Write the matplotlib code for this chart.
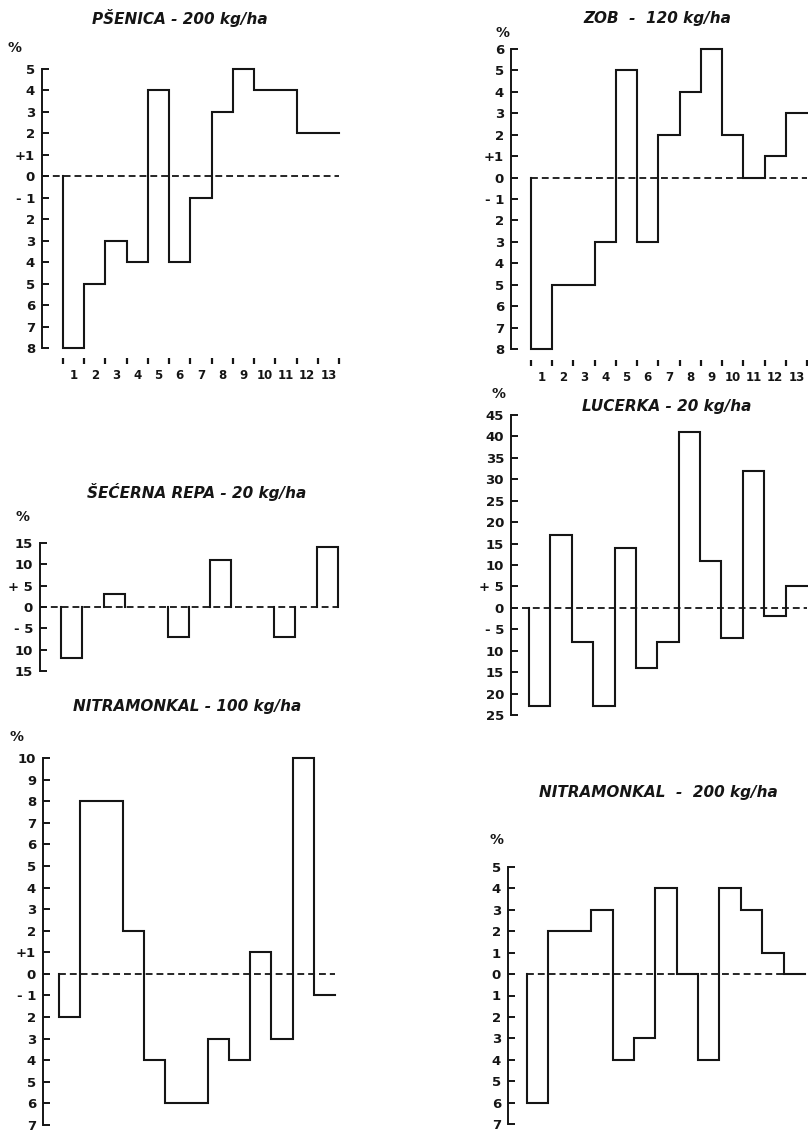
import numpy as np
import matplotlib
matplotlib.use('Agg')
import matplotlib.pyplot as plt

plt.rcParams['font.family'] = ['DejaVu Sans']

# data (percent change per interval 1..13)
psenica = [-8, -5, -3, -4, 4, -4, -1, 3, 5, 4, 4, 2, 2]
zob = [-8, -5, -5, -3, 5, -3, 2, 4, 6, 2, 0, 1, 3]
secerna = [-12, 0, 3, 0, 0, -7, 0, 11, 0, 0, -7, 0, 14]
lucerka = [-23, 17, -8, -23, 14, -14, -8, 41, 11, -7, 32, -2, 5]
nitro100 = [-2, 8, 8, 2, -4, -6, -6, -3, -4, 1, -3, 10, -1]
nitro200 = [-6, 2, 2, 3, -4, -3, 4, 0, -4, 4, 3, 1, 0]

x_labels = [str(i) for i in range(1, 14)]

# y tick values and their hand-written labels
psenica_ticks = list(range(5, -9, -1))
psenica_tl = ['5', '4', '3', '2', '+1', '0', '- 1', '2', '3', '4', '5', '6', '7', '8']
zob_ticks = list(range(6, -9, -1))
zob_tl = ['6', '5', '4', '3', '2', '+1', '0', '- 1', '2', '3', '4', '5', '6', '7', '8']
secerna_ticks = list(range(15, -16, -5))
secerna_tl = ['15', '10', '+ 5', '0', '- 5', '10', '15']
lucerka_ticks = list(range(45, -26, -5))
lucerka_tl = ['45', '40', '35', '30', '25', '20', '15', '10', '+ 5', '0', '- 5',
              '10', '15', '20', '25']
nitro100_ticks = list(range(10, -8, -1))
nitro100_tl = ['10', '9', '8', '7', '6', '5', '4', '3', '2', '+1', '0', '- 1',
               '2', '3', '4', '5', '6', '7']
nitro200_ticks = list(range(5, -8, -1))
nitro200_tl = ['5', '4', '3', '2', '1', '0', '1', '2', '3', '4', '5', '6', '7']

W, H = 808, 1131
INK = '#151515'
fig = plt.figure(figsize=(W / 100, H / 100), dpi=100)
fig.patch.set_facecolor('white')


def make_axes(spine_x, start_x, end_x, top_px, bot_px, ticks, labels):
    unit = (end_x - start_x) / 13
    x0 = -(start_x - spine_x) / unit
    ax = fig.add_axes([spine_x / W, 1 - bot_px / H, (end_x - spine_x) / W,
                       (bot_px - top_px) / H])
    ax.set_xlim(x0, 13)
    ax.set_ylim(ticks[-1], ticks[0])
    ax.patch.set_alpha(0)
    for s in ['top', 'right', 'bottom']:
        ax.spines[s].set_visible(False)
    ax.spines['left'].set_linewidth(1.4)
    ax.spines['left'].set_color(INK)
    ax.set_yticks(ticks)
    ax.set_yticklabels(labels)
    ax.tick_params(axis='y', direction='in', length=5, width=1.4, pad=5,
                   labelsize=9.5, colors=INK)
    for t in ax.get_yticklabels():
        t.set_fontweight('bold')
    ax.set_xticks([])
    return ax


def baseline(ax, xstart):
    ax.plot([xstart, 13], [0, 0], color=INK, lw=1.3, dashes=(3.8, 2.2))


def steps(ax, vals):
    xs = [0] + list(range(14))
    ys = [0] + list(vals) + [vals[-1]]
    ax.plot(xs, ys, drawstyle='steps-post', color=INK, lw=1.5,
            solid_joinstyle='miter', clip_on=False)


def x_axis(ax, out_px, pad):
    ax.spines['bottom'].set_position(('outward', out_px))
    ax.set_xticks(np.arange(14), minor=True)
    ax.set_xticks(np.arange(13) + 0.5)
    ax.set_xticklabels(x_labels)
    ax.tick_params(axis='x', which='minor', direction='out', length=4,
                   width=1.6, colors=INK)
    ax.tick_params(axis='x', which='major', length=0, pad=pad, labelsize=8.5,
                   colors=INK)
    for t in ax.get_xticklabels():
        t.set_fontweight('bold')


def title(x, y, s, size=11):
    fig.text(x / W, 1 - y / H, s, ha='center', va='center', fontsize=size,
             fontweight='bold', fontstyle='italic', color=INK)


def pct(x, y):
    fig.text(x / W, 1 - y / H, '%', ha='center', va='center', fontsize=10,
             fontweight='bold', color=INK)


# PŠENICA
ax = make_axes(42, 63, 339, 69, 348, psenica_ticks, psenica_tl)
baseline(ax, ax.get_xlim()[0])
steps(ax, psenica)
x_axis(ax, 7, 8)
title(180, 18, 'PŠENICA - 200 kg/ha')
pct(15, 48)

# ZOB
ax = make_axes(511, 531, 807, 49, 349, zob_ticks, zob_tl)
baseline(ax, 0)
steps(ax, zob)
x_axis(ax, 8, 8)
title(657, 18, 'ZOB  -  120 kg/ha')
pct(502, 33)

# ŠEĆERNA REPA
ax = make_axes(40, 61, 338, 543, 671, secerna_ticks, secerna_tl)
baseline(ax, ax.get_xlim()[0])
for i, v in enumerate(secerna):
    if v != 0:
        ax.plot([i, i, i + 1, i + 1], [0, v, v, 0], color=INK, lw=1.5,
                solid_joinstyle='miter', clip_on=False)
title(197, 492, 'ŠEĆERNA REPA - 20 kg/ha')
pct(22, 517)

# LUCERKA
ax = make_axes(511, 529, 807, 415, 715, lucerka_ticks, lucerka_tl)
baseline(ax, -0.35)
steps(ax, lucerka)
title(667, 407, 'LUCERKA - 20 kg/ha')
pct(498, 394)

# NITRAMONKAL 100
ax = make_axes(43, 59, 335, 758, 1125, nitro100_ticks, nitro100_tl)
baseline(ax, 0)
steps(ax, nitro100)
title(187, 707, 'NITRAMONKAL - 100 kg/ha')
pct(17, 737)

# NITRAMONKAL 200
ax = make_axes(508, 527, 805, 867, 1124, nitro200_ticks, nitro200_tl)
baseline(ax, 0)
steps(ax, nitro200)
title(658, 793, 'NITRAMONKAL  -  200 kg/ha')
pct(497, 840)

fig.savefig('out.png', dpi=100, facecolor='white')
